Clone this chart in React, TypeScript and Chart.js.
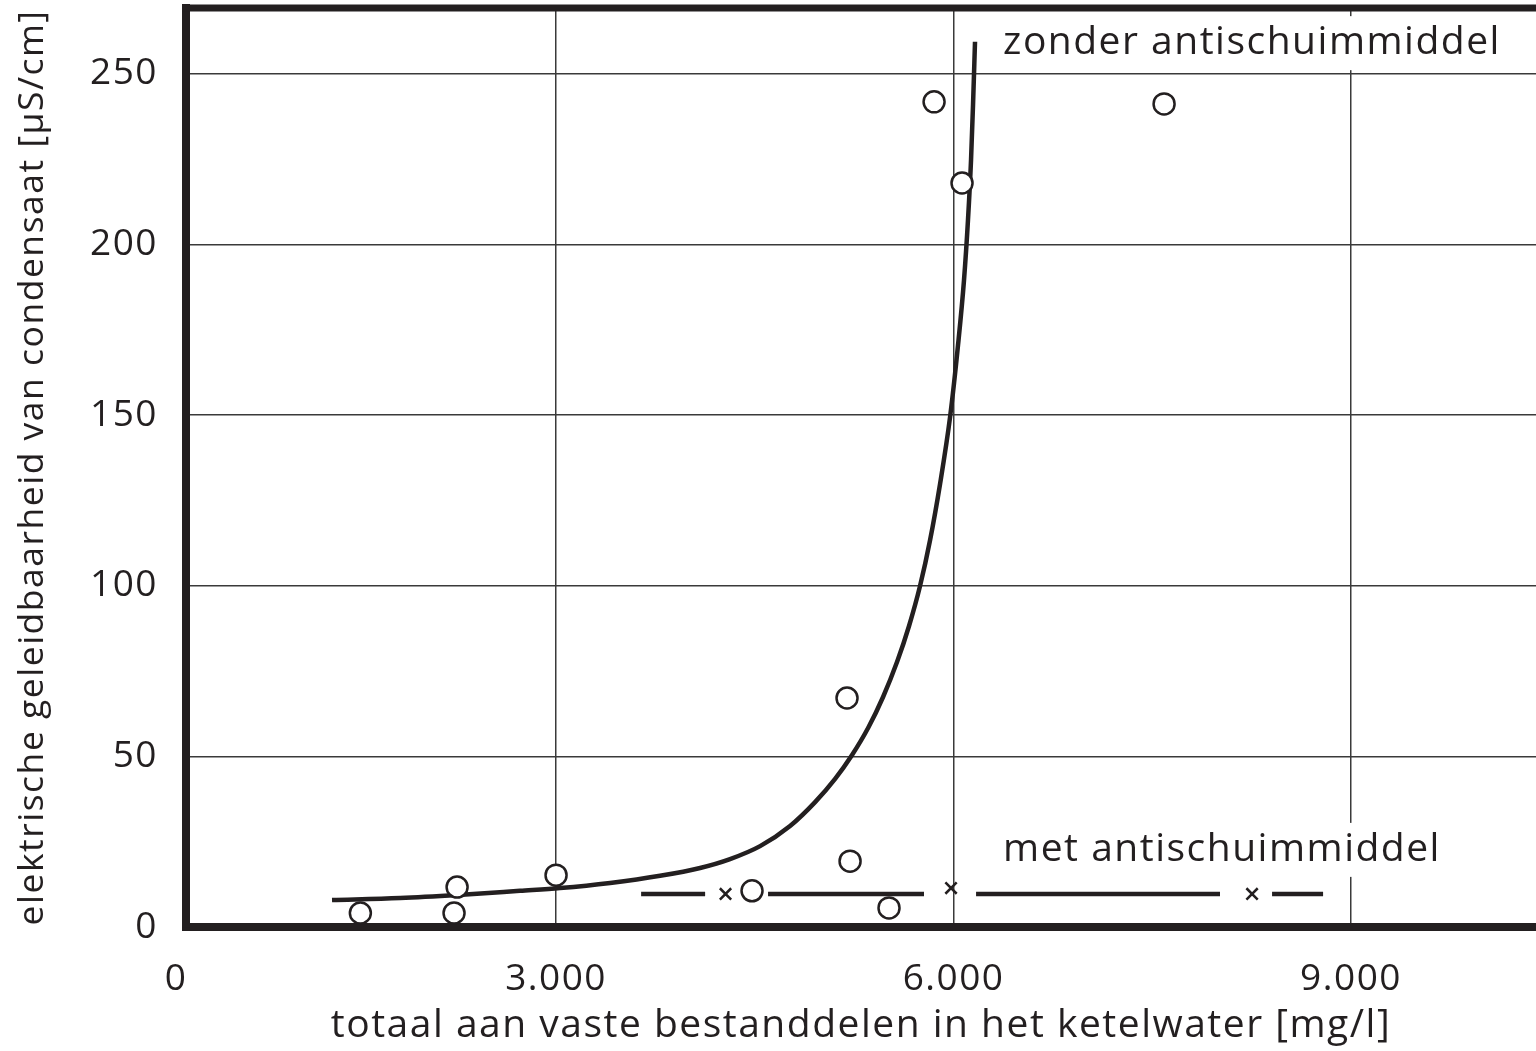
import React, { useEffect, useRef } from "react";
import { Chart, registerables } from "chart.js";

Chart.register(...registerables);

// ---- data ----
const xTickValues = [0, 3000, 6000, 9000];
const xTickLabels = ["0", "3.000", "6.000", "9.000"];
const yTickValues = [0, 50, 100, 150, 200, 250];

// axis ranges (the drawn x axis starts slightly right of 0 in the original figure)
const X_MIN = 207;
const X_MAX = 10396;
const Y_MAX = 269.3;

// fitted curve "zonder antischuimmiddel"
const curveX = [1309, 1823, 2260, 2728, 3030, 3408, 3785, 4087, 4313, 4540, 4766, 4955, 5106, 5234, 5355, 5468, 5574, 5664, 5747, 5823, 5898, 5974, 6034, 6079, 6109, 6132, 6147, 6162];
const curveY = [7.9, 8.5, 9.4, 10.6, 11.4, 12.9, 15.0, 17.3, 19.9, 23.7, 29.6, 36.6, 43.4, 50.4, 58.3, 67.4, 77.7, 88.2, 99.9, 113.4, 129.8, 149.5, 170.6, 189.6, 207.2, 224.8, 240.9, 259.4];

// line "met antischuimmiddel" (broken segments)
const metSegStart = [3642, 4600, 6170, 8404];
const metSegEnd = [4125, 5777, 8011, 8789];
const metLevel = 9.7;

// measured points (open circles)
const circleX = [1523, 2230, 2253, 3000, 4479, 5219, 5513, 5196, 5853, 6064, 7589];
const circleY = [4.1, 4.1, 11.7, 15.2, 10.6, 19.3, 5.6, 67.1, 241.8, 218, 241.2];

// measured points with antifoam (crosses)
const crossX = [4279, 5981, 8253];
const crossY = [9.7, 11.4, 9.7];

// series labels
const seriesLabels = ["zonder antischuimmiddel", "met antischuimmiddel"];
const seriesLabelX = [6374, 6374];
const seriesLabelY = [259, 22.6];

const xTitle = "totaal aan vaste bestanddelen in het ketelwater [mg/l]";
const yTitle = "elektrische geleidbaarheid van condensaat [µS/cm]";

const INK = "#231f20";
const GRID = "#3a3a3a";
const FONT = "'Open Sans', 'Noto Sans', sans-serif";

export default function App() {
  const ref = useRef<HTMLCanvasElement | null>(null);

  useEffect(() => {
    if (!ref.current) return;

    const metData: { x: number; y: number | null }[] = [];
    metSegStart.forEach((s, i) => {
      if (i > 0) metData.push({ x: s, y: null });
      metData.push({ x: s, y: metLevel });
      metData.push({ x: metSegEnd[i], y: metLevel });
    });

    const framePlugin = {
      id: "frame",
      beforeDraw(chart: any) {
        const ctx = chart.ctx;
        if ("letterSpacing" in ctx) (ctx as any).letterSpacing = "1.5px";
      },
      beforeDatasetsDraw(chart: any) {
        const { ctx, scales } = chart;
        ctx.save();
        ctx.font = `39px ${FONT}`;
        ctx.textBaseline = "middle";
        ctx.textAlign = "left";
        seriesLabels.forEach((t, i) => {
          const px = scales.x.getPixelForValue(seriesLabelX[i]);
          const py = scales.y.getPixelForValue(seriesLabelY[i]);
          const w = ctx.measureText(t).width;
          ctx.fillStyle = "#ffffff";
          ctx.fillRect(px - 4, py - 27, w + 8, 54);
          ctx.fillStyle = INK;
          ctx.fillText(t, px, py);
        });
        ctx.restore();
      },
      afterDraw(chart: any) {
        const { ctx, chartArea } = chart;
        ctx.save();
        ctx.strokeStyle = INK;
        ctx.lineWidth = 7;
        ctx.beginPath();
        ctx.moveTo(chartArea.left - 4, chartArea.top);
        ctx.lineTo(chartArea.right, chartArea.top);
        ctx.stroke();
        ctx.restore();
      },
    };

    const chart = new Chart(ref.current, {
      type: "scatter",
      data: {
        datasets: [
          {
            type: "line",
            label: seriesLabels[0],
            data: curveX.map((x, i) => ({ x, y: curveY[i] })),
            borderColor: INK,
            borderWidth: 4.5,
            pointRadius: 0,
            cubicInterpolationMode: "monotone",
            fill: false,
            order: 3,
          } as any,
          {
            type: "line",
            label: seriesLabels[1],
            data: metData,
            borderColor: INK,
            borderWidth: 4.5,
            pointRadius: 0,
            spanGaps: false,
            tension: 0,
            fill: false,
            order: 2,
          } as any,
          {
            label: "circles",
            data: circleX.map((x, i) => ({ x, y: circleY[i] })),
            pointStyle: "circle",
            pointRadius: 10.5,
            borderWidth: 2.5,
            borderColor: INK,
            backgroundColor: "#ffffff",
            order: 1,
          },
          {
            label: "crosses",
            data: crossX.map((x, i) => ({ x, y: crossY[i] })),
            pointStyle: "crossRot",
            pointRadius: 8,
            borderWidth: 2.5,
            borderColor: INK,
            backgroundColor: INK,
            order: 0,
          },
        ],
      },
      options: {
        responsive: false,
        animation: false,
        devicePixelRatio: 1,
        layout: { autoPadding: false, padding: { top: 8, right: 0, bottom: 0, left: 0 } },
        plugins: {
          legend: { display: false },
          tooltip: { enabled: false },
        },
        scales: {
          x: {
            type: "linear",
            min: X_MIN,
            max: X_MAX,
            afterBuildTicks: (s: any) => {
              s.ticks = xTickValues.map((v) => ({ value: v === 0 ? X_MIN : v }));
            },
            afterFit: (s: any) => {
              s.height = 124;
              s.paddingLeft = 0;
              s.paddingRight = 0;
            },
            ticks: {
              autoSkip: false,
              maxRotation: 0,
              padding: 30,
              color: INK,
              font: { family: FONT, size: 37 },
              callback: (v: any) => {
                const idx = xTickValues.findIndex((t) => (t === 0 ? X_MIN : t) === v);
                if (idx < 0) return "";
                return idx === 0 ? xTickLabels[idx] + "\u2002" : xTickLabels[idx];
              },
            },
            grid: { color: GRID, lineWidth: 1.5, drawTicks: false },
            border: { display: true, color: INK, width: 8 },
            title: {
              display: true,
              text: xTitle,
              color: INK,
              font: { family: FONT, size: 39 },
              padding: { top: 0, bottom: 2 },
            },
          },
          y: {
            type: "linear",
            min: 0,
            max: Y_MAX,
            afterBuildTicks: (s: any) => {
              s.ticks = yTickValues.map((v) => ({ value: v }));
            },
            afterFit: (s: any) => {
              s.width = 186;
              s.paddingTop = 0;
              s.paddingBottom = 0;
            },
            ticks: {
              padding: 28,
              color: INK,
              font: { family: FONT, size: 37 },
              callback: (v: any) => String(v),
            },
            grid: { color: GRID, lineWidth: 1.5, drawTicks: false },
            border: { display: true, color: INK, width: 8 },
            title: {
              display: true,
              text: yTitle,
              color: INK,
              font: { family: FONT, size: 35.5 },
              padding: { top: 12, bottom: 0 },
            },
          },
        },
      },
      plugins: [framePlugin],
    } as any);

    return () => chart.destroy();
  }, []);

  return (
    <div style={{ position: "fixed", left: 0, top: 0, width: 1536, height: 1051, overflow: "hidden", background: "#fff" }}>
      <canvas ref={ref} width={1536} height={1051} style={{ display: "block" }} />
    </div>
  );
}
